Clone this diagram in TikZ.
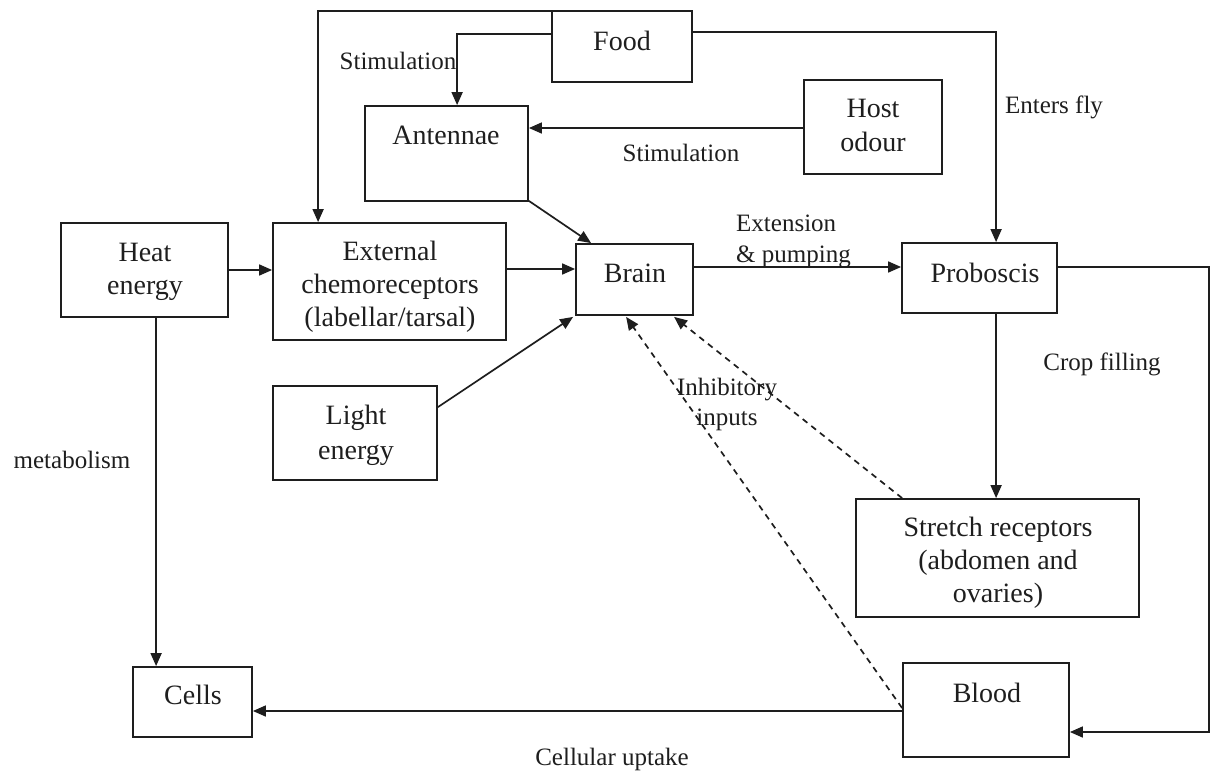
\documentclass[tikz,border=0pt]{standalone}
\usepackage{fontspec}
\setmainfont{Liberation Serif}
\usetikzlibrary{arrows.meta,calc}
\definecolor{ink}{RGB}{30,30,30}
\begin{document}
\begin{tikzpicture}[x=1pt,y=-1pt,
  box/.style={draw=ink, line width=1.8pt, inner sep=0pt, rectangle},
  btext/.style={font=\fontsize{28}{33}\selectfont, align=center, anchor=base, inner sep=0pt, text=ink},
  ltext/.style={font=\fontsize{25}{31}\selectfont, align=center, anchor=base, inner sep=0pt, text=ink},
  arr/.style={draw=ink, line width=1.7pt, -{Triangle[length=13pt,width=11pt]}},
  dsh/.style={arr, dash pattern=on 6pt off 5pt}]
\useasboundingbox (0,0) rectangle (1216,774);

% boxes
\node[box, minimum width=140pt, minimum height=71pt] (food) at (622,46.5) {};
\node[box, minimum width=163pt, minimum height=95pt] (ant) at (446.5,153.5) {};
\node[box, minimum width=138pt, minimum height=94pt] (host) at (873,127) {};
\node[box, minimum width=167pt, minimum height=94pt] (heat) at (144.5,270) {};
\node[box, minimum width=233pt, minimum height=117pt] (ext) at (389.5,281.5) {};
\node[box, minimum width=117pt, minimum height=71pt] (brain) at (634.5,279.5) {};
\node[box, minimum width=155pt, minimum height=70pt] (prob) at (979.5,278) {};
\node[box, minimum width=164pt, minimum height=94pt] (light) at (355,433) {};
\node[box, minimum width=283pt, minimum height=118pt] (stretch) at (997.5,558) {};
\node[box, minimum width=119pt, minimum height=70pt] (cells) at (192.5,702) {};
\node[box, minimum width=166pt, minimum height=94pt] (blood) at (986,710) {};

% box texts (base anchor = baseline of the last line)
\node[btext] (foodT) at (622,50) {Food};
\node[btext] (antT) at (446,144) {Antennae};
\node[btext, font=\fontsize{28}{34}\selectfont] (hostT) at (873,151) {Host\\odour};
\node[btext] (heatT) at (145,294) {Heat\\energy};
\node[btext] (extT) at (390,326) {External\\chemoreceptors\\(labellar/tarsal)};
\node[btext] (brainT) at (635,282) {Brain};
\node[btext] (probT) at (985,282) {Proboscis};
\node[btext, font=\fontsize{28}{35}\selectfont] (lightT) at (356,459) {Light\\energy};
\node[btext] (stretchT) at (998,602) {Stretch receptors\\(abdomen and\\ovaries)};
\node[btext] (cellsT) at (193,704) {Cells};
\node[btext] (bloodT) at (987,702) {Blood};

% labels
\node[ltext] (stim1) at (398,69) {Stimulation};
\node[ltext] (stim2) at (681,161) {Stimulation};
\node[ltext] (enters) at (1054,113) {Enters fly};
\node[ltext, align=left, anchor=base west] (extn) at (736,262) {Extension\\\& pumping};
\node[ltext] (crop) at (1102,370) {Crop filling};
\node[ltext] (metab) at (72,468) {metabolism};
\node[ltext, font=\fontsize{25}{30}\selectfont] (inhib) at (727,425) {Inhibitory\\inputs};
\node[ltext] (uptake) at (612,765) {Cellular uptake};

% connectors
\draw[arr] ($(food.north west)+(0,1)$) -| ($(ext.north west)+(46,0)$);
\draw[arr] ($(food.north west)+(0,24)$) -| ($(ant.north west)+(93,0)$);
\draw[arr] ($(food.north east)+(0,22)$) -| ($(prob.north west)+(95,0)$);
\draw[arr] ($(host.west)+(0,1)$) -- ($(host.west -| ant.east)+(0,1)$);
\draw[arr] ($(ant.south east)+(0,-1)$) -- ($(brain.north west)+(16,0)$);
\draw[arr] (heat.east) -- (heat.east -| ext.west);
\coordinate (e1) at ($(ext.east)+(0,-12.5)$);
\draw[arr] (e1) -- (e1 -| brain.west);
\coordinate (b1) at ($(brain.east)+(0,-12.5)$);
\draw[arr] (b1) -- (b1 -| prob.west);
\draw[arr] ($(light.north east)+(0,22)$) -- ($(brain.south west)+(-2,1)$);
\coordinate (p1) at ($(prob.south west)+(95,0)$);
\draw[arr] (p1) -- (p1 |- stretch.north);
\draw[arr] ($(prob.east)+(0,-11)$) -- ++(151,0) |- ($(blood.east)+(0,22)$);
\coordinate (h1) at ($(heat.south west)+(96,0)$);
\draw[arr] (h1) -- (h1 |- cells.north);
\coordinate (c1) at ($(blood.west)+(0,1)$);
\draw[arr] (c1) -- (c1 -| cells.east);
\draw[dsh] ($(blood.west)+(0,-2)$) -- ($(brain.south west)+(51,1)$);
\draw[dsh] ($(stretch.north west)+(47,0)$) -- ($(brain.south west)+(99,1)$);
\end{tikzpicture}
\end{document}
